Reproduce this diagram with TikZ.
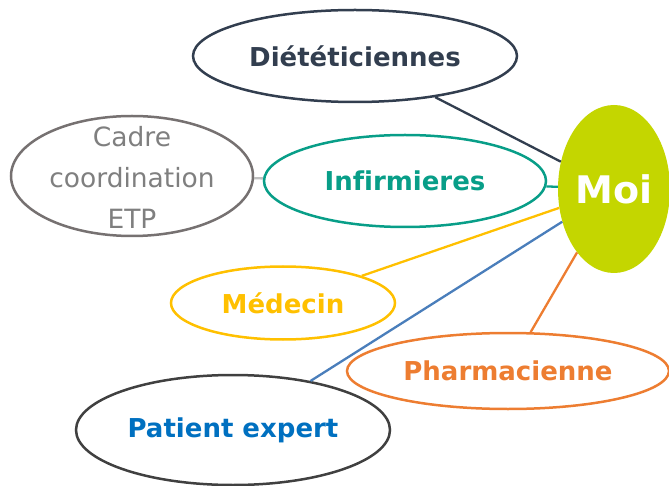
\documentclass[tikz,border=0pt]{standalone}
\usepackage{fontspec}
\setmainfont{DejaVu Sans}[Ligatures={NoCommon}]
\usetikzlibrary{shapes.geometric}
\definecolor{cdiet}{HTML}{323E4F}
\definecolor{cteal}{HTML}{089E88}
\definecolor{cyel}{HTML}{FFC000}
\definecolor{corange}{HTML}{ED7D31}
\definecolor{cblue}{HTML}{0070C0}
\definecolor{cline}{HTML}{4A7EBB}
\definecolor{cmoi}{HTML}{C4D600}
\definecolor{cgray}{HTML}{767171}
\definecolor{cgtext}{HTML}{7F7F7F}
\definecolor{cpat}{HTML}{404040}
\definecolor{clight}{HTML}{BFBFBF}
\tikzset{
  bubble/.style={ellipse, draw, line width=2.5pt, inner sep=0pt, font=\bfseries\fontsize{26}{30}\selectfont},
  conn/.style={line width=2.3pt},
}
\begin{document}
\begin{tikzpicture}[x=1pt,y=-1pt]
\useasboundingbox (0,0) rectangle (669,486);
\clip (0,0) rectangle (669,486);
\node[bubble, draw=cdiet, text=cdiet, minimum width=324, minimum height=92] (diet) at (355,56) {Diététiciennes};
\node[ellipse, draw=cgray, line width=2.5pt, minimum width=242, minimum height=120, inner sep=0pt] (cadre) at (132,176) {};
\node[text=cgtext, align=center, font=\fontsize{26.5}{41}\selectfont] (cadretxt) at (132,177) {Cadre\\coordination\\ETP};
\node[bubble, draw=cteal, text=cteal, minimum width=282, minimum height=92] (inf) at (405,181) {Infirmieres};
\node[ellipse, fill=cmoi, inner sep=0pt, minimum width=112, minimum height=168, text=white, font=\bfseries\fontsize{38}{44}\selectfont] (moi) at (614,189) {Moi};
\node[bubble, draw=cyel, text=cyel, minimum width=224, minimum height=73] (med) at (283,303) {Médecin};
\node[bubble, draw=corange, text=corange, minimum width=322, minimum height=76] (pharma) at (508,371) {Pharmacienne};
\node[bubble, draw=cpat, text=cblue, minimum width=314, minimum height=110] (pat) at (233,430) {Patient expert};
\draw[conn, draw=cdiet] (diet) -- (moi);
\draw[conn, draw=clight] (cadre) -- (inf);
\draw[conn, draw=cteal] (inf) -- (moi);
\draw[conn, draw=cyel] (med) -- (moi);
\draw[conn, draw=cline] (pat) -- (moi);
\draw[conn, draw=corange] (pharma) -- (moi);
\end{tikzpicture}
\end{document}
